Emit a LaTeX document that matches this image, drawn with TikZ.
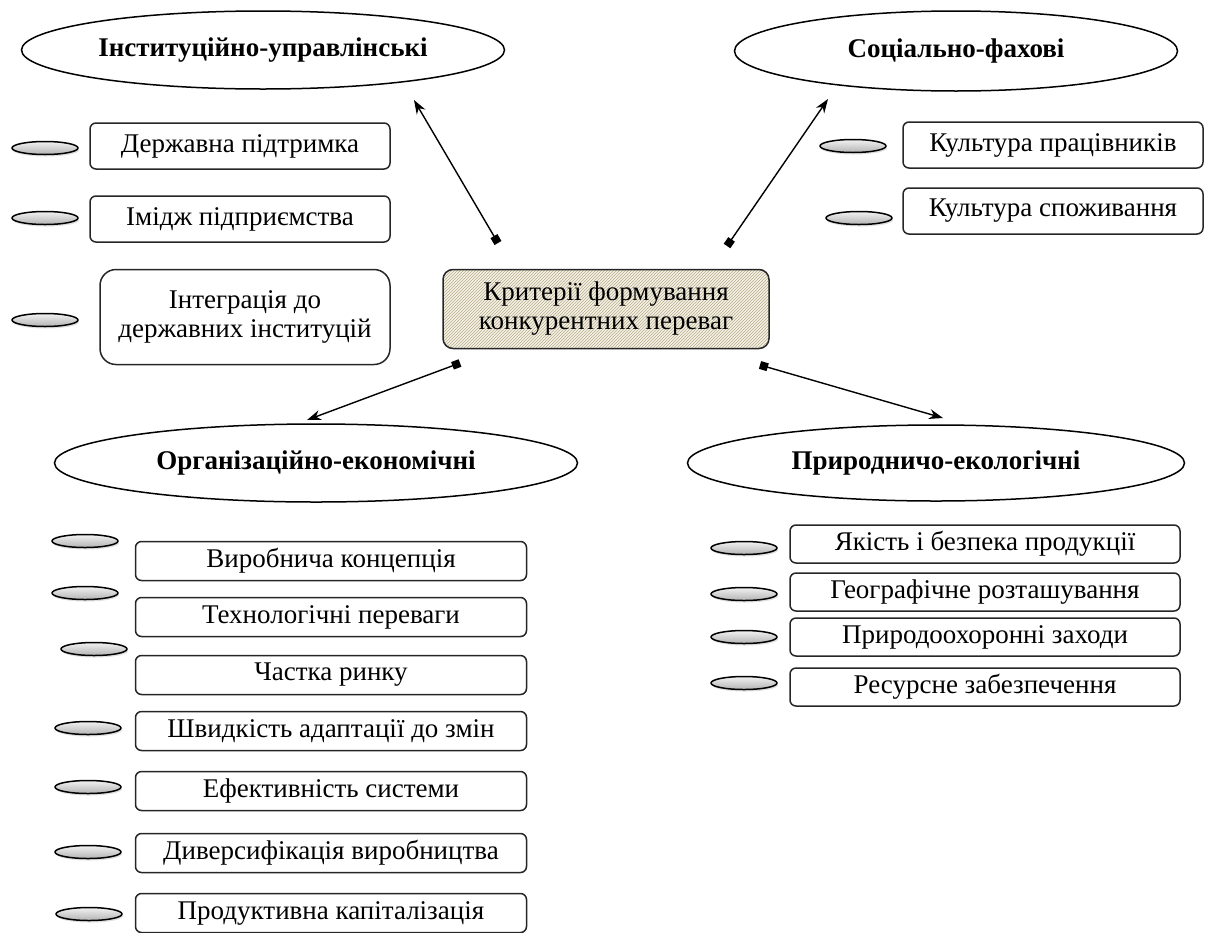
\documentclass[tikz,border=0pt]{standalone}
\usepackage{fontspec}
\setmainfont{Liberation Serif}
\usepackage{tikz}
\usetikzlibrary{arrows.meta}
\usetikzlibrary{positioning}
\usetikzlibrary{patterns}
\usetikzlibrary{shapes.geometric}
\usetikzlibrary{shadows}
\definecolor{hatchbg}{RGB}{244,241,231}
\definecolor{hatchln}{RGB}{185,174,140}
\tikzstyle{group}=[draw,ellipse,line width=1.5pt,minimum height=78pt,font=\fontsize{27}{29}\selectfont\bfseries]
\tikzstyle{crit}=[draw=black!85,rounded corners=6pt,line width=1.5pt,minimum width=300pt,minimum height=46pt,font=\fontsize{27}{29}\selectfont]
\tikzstyle{critlow}=[crit,minimum width=391pt,minimum height=39pt]
\tikzstyle{critnat}=[crit,minimum width=390pt,minimum height=38pt]
\tikzstyle{bullet}=[draw,ellipse,line width=1.5pt,top color=gray!10,bottom color=gray!60,minimum width=66pt,minimum height=13pt,inner sep=0pt,drop shadow={opacity=0.25,shadow xshift=1pt,shadow yshift=-2pt}]
\tikzstyle{link}=[line width=1.4pt,{Square[length=8pt,width=8pt]}-{Stealth[length=14pt,width=10pt]}]

\begin{document}
\begin{tikzpicture}[x=1pt,y=-1pt]
\useasboundingbox (0,0) rectangle (1225,932);

% four groups of criteria
\node[group,minimum width=483pt] (inst) at (263,50) {Інституційно-управлінські};
\node[group,minimum width=443pt,minimum height=80pt] (soc) at (956,51) {Соціально-фахові};
\node[group,minimum width=523pt] (org) at (316,463) {Організаційно-економічні};
\node[group,minimum width=497pt,minimum height=76pt] (pryr) at (936,463) {Природничо-екологічні};

% centre
\node[draw=black!85,line width=1.5pt,rounded corners=10pt,minimum width=326pt,minimum height=79pt,
  preaction={fill=hatchbg},pattern=north east lines,pattern color=hatchln,
  align=center,font=\fontsize{27}{29}\selectfont] (krit) at (606,309) {Критерії формування\\конкурентних переваг};

% arrows
\coordinate (a1) at (498,243); \coordinate (b1) at (414,100);
\coordinate (a2) at (727,246); \coordinate (b2) at (828,99);
\coordinate (a3) at (460,363); \coordinate (b3) at (307,420);
\coordinate (a4) at (760,365); \coordinate (b4) at (943,418);
\draw[link] (a1) -- (b1);
\draw[link] (a2) -- (b2);
\draw[link] (a3) -- (b3);
\draw[link] (a4) -- (b4);

% institutional
\node[crit] (dp) at (240,146) {Державна підтримка};
\node[crit] (im) at (240,219) {Імідж підприємства};
\node[crit,minimum width=290pt,minimum height=95pt,rounded corners=16pt,align=center] (ig) at (245,317) {Інтеграція до\\державних інституцій};
\node[bullet] (u1) at (45,148) {};
\node[bullet] (u2) at (45,218) {};
\node[bullet] (u3) at (45,320) {};

% social
\node[crit] (kp) at (1053,145) {Культура працівників};
\node[crit] (ks) at (1053,211) {Культура споживання};
\node[bullet] (s1) at (853,146) {};
\node[bullet] (s2) at (859,218) {};

% organisational
\node[critlow] (o1) at (331,561) {Виробнича концепція};
\node[critlow] (o2) at (331,617) {Технологічні переваги};
\node[critlow] (o3) at (331,675) {Частка ринку};
\node[critlow] (o4) at (331,731) {Швидкість адаптації до змін};
\node[critlow] (o5) at (331,791) {Ефективність системи};
\node[critlow] (o6) at (331,853) {Диверсифікація виробництва};
\node[critlow] (o7) at (331,913) {Продуктивна капіталізація};
\node[bullet] (r1) at (85,541) {};
\node[bullet] (r2) at (85,593) {};
\node[bullet] (r3) at (94,649) {};
\node[bullet] (r4) at (88,728) {};
\node[bullet] (r5) at (88,787) {};
\node[bullet] (r6) at (88,852) {};
\node[bullet] (r7) at (89,914) {};

% natural
\node[critnat] (p1) at (985,544) {Якість і безпека продукції};
\node[critnat] (p2) at (985,592) {Географічне розташування};
\node[critnat] (p3) at (985,637) {Природоохоронні заходи};
\node[critnat] (p4) at (985,687) {Ресурсне забезпечення};
\node[bullet] (n1) at (744,548) {};
\node[bullet] (n2) at (744,594) {};
\node[bullet] (n3) at (744,637) {};
\node[bullet] (n4) at (744,683) {};
\end{tikzpicture}
\end{document}
